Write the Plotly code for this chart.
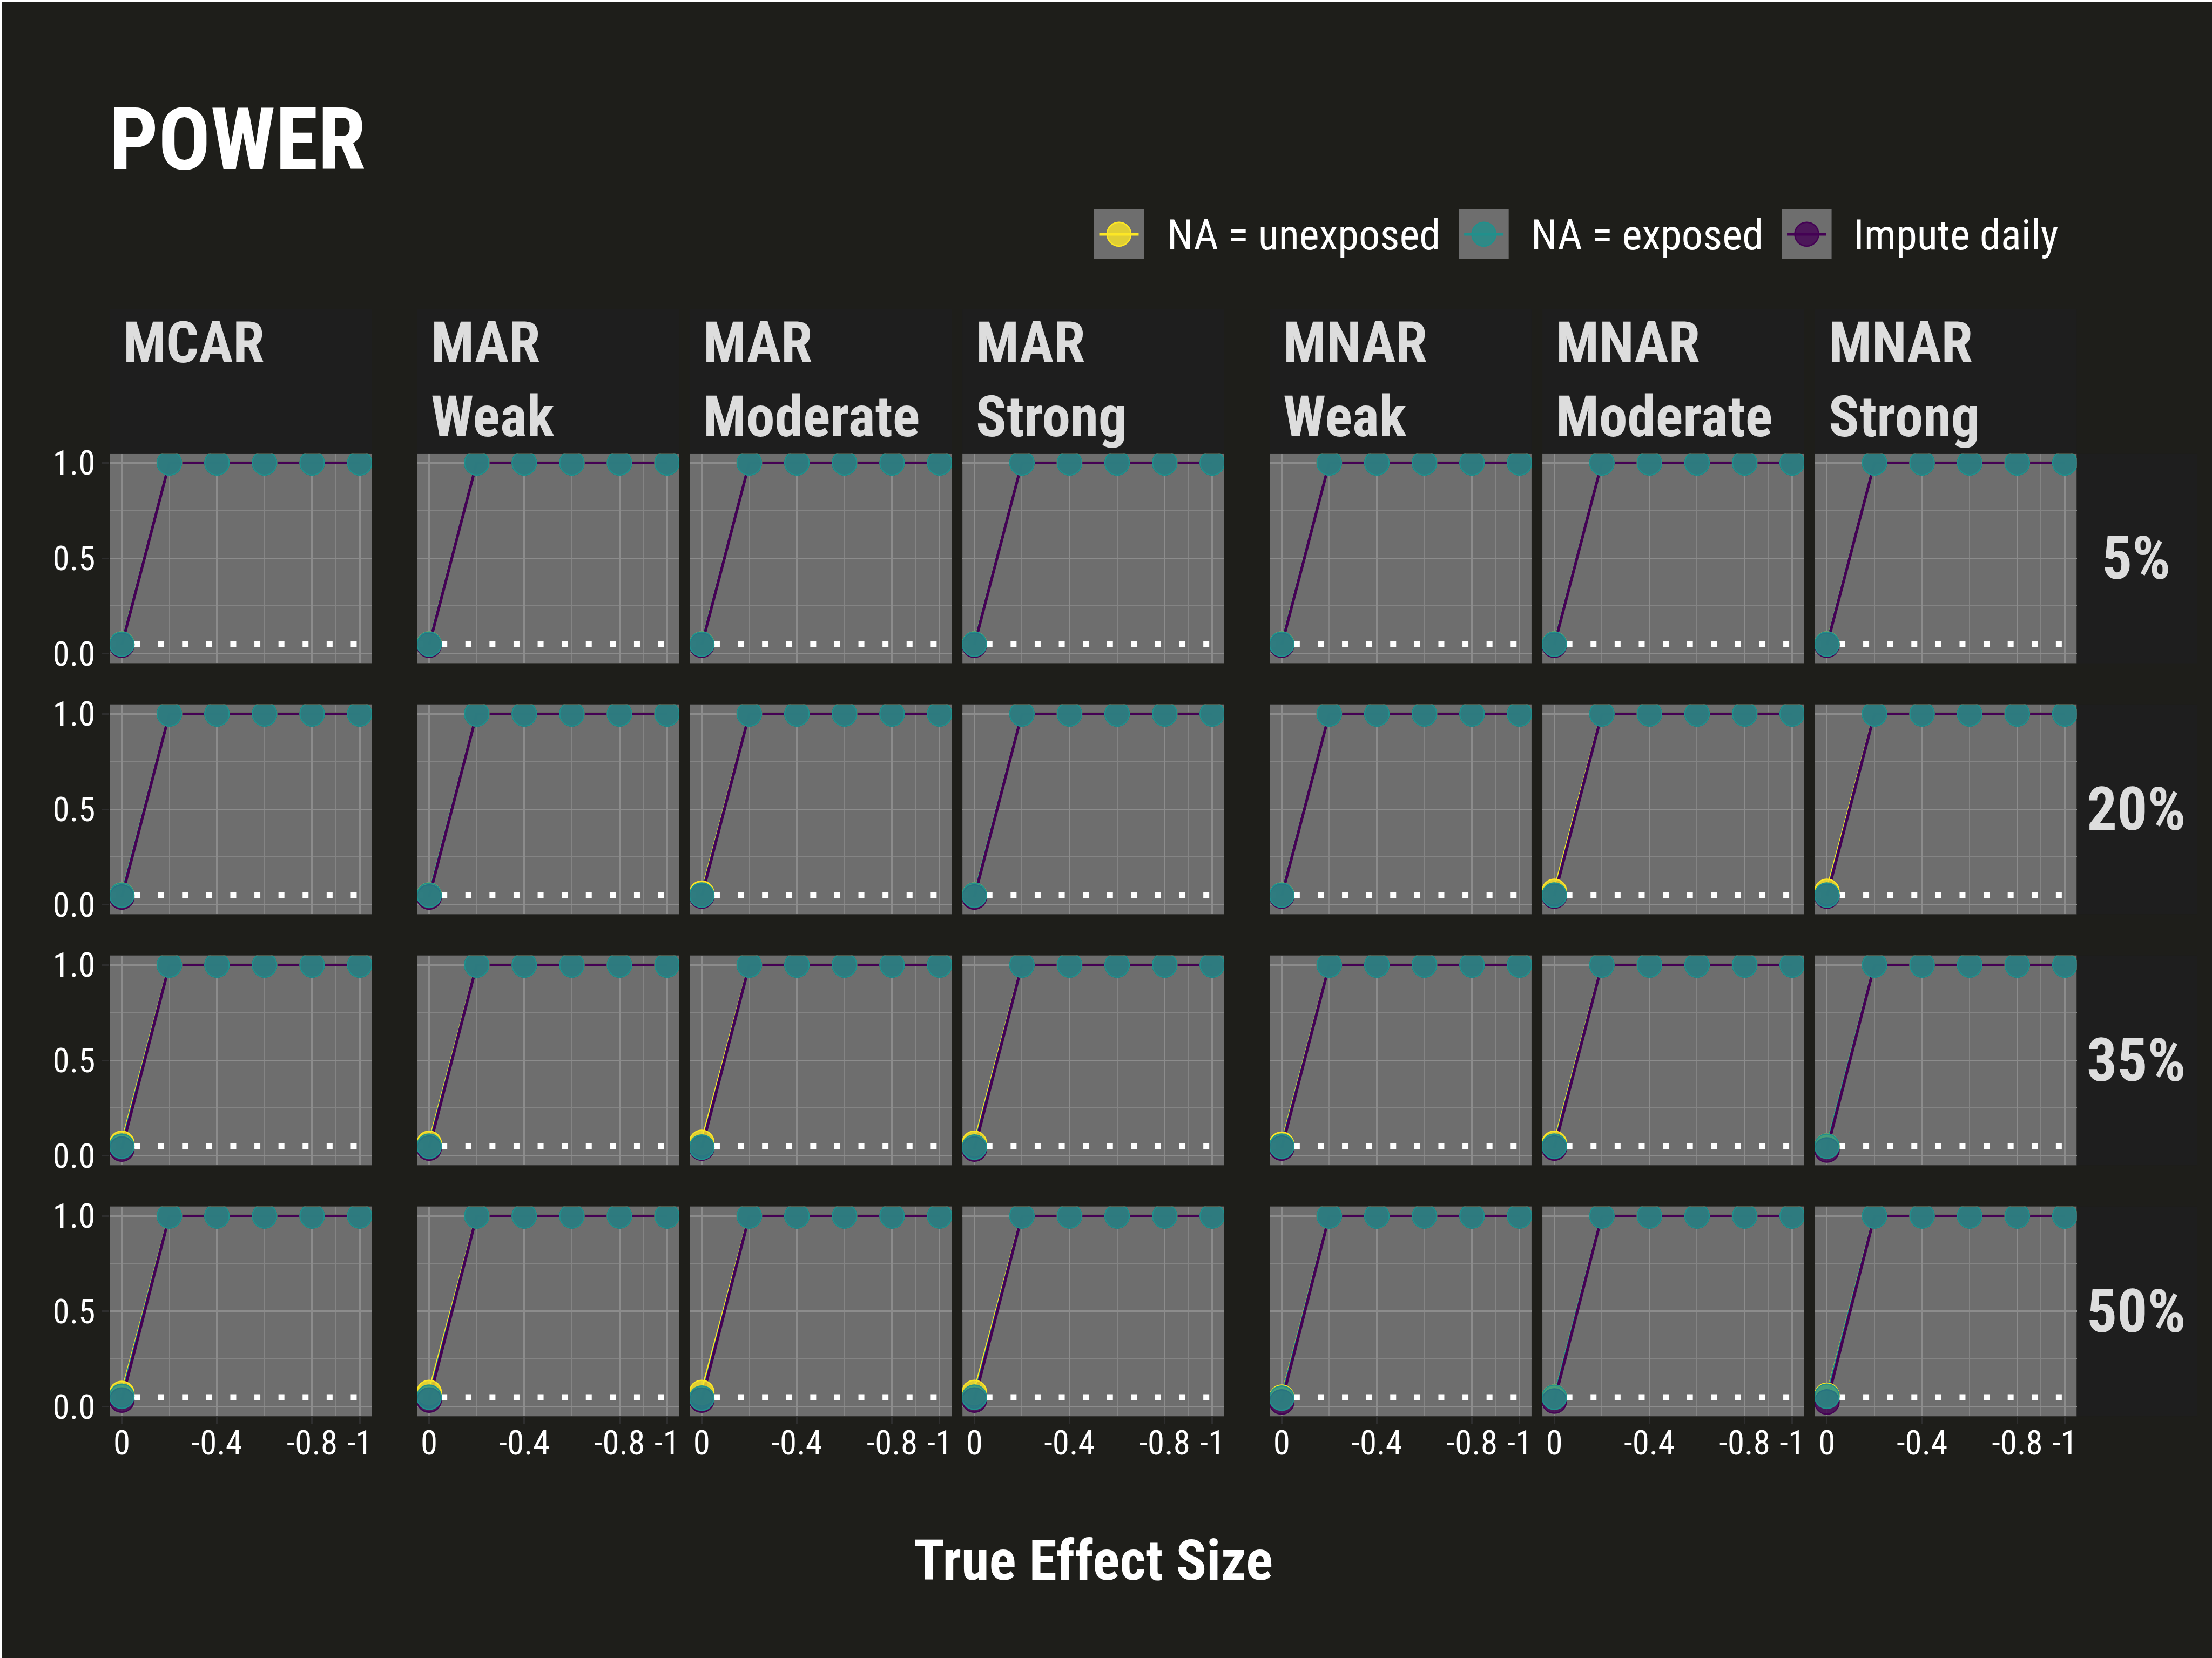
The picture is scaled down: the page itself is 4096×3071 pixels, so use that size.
import plotly.graph_objects as go

# ---------------- data ----------------
effect_sizes = [0, -0.2, -0.4, -0.6, -0.8, -1.0]
mechanisms = ["MCAR", "MAR", "MAR", "MAR", "MNAR", "MNAR", "MNAR"]
strengths = ["", "Weak", "Moderate", "Strong", "Weak", "Moderate", "Strong"]
missing_pct = ["5%", "20%", "35%", "50%"]
series_names = ["NA = unexposed", "NA = exposed", "Impute daily"]
series_colors = ["#FDE725", "#21908C", "#440154"]
series_fill = ["rgba(253,231,37,0.8)", "rgba(33,144,140,0.8)", "rgba(68,1,84,0.8)"]

# power at true effect 0 (rows = missing %, cols = mechanism/strength)
power_null_unexposed = [
    [0.050, 0.050, 0.050, 0.050, 0.050, 0.050, 0.050],
    [0.050, 0.050, 0.060, 0.050, 0.050, 0.070, 0.070],
    [0.065, 0.065, 0.070, 0.065, 0.060, 0.065, 0.050],
    [0.070, 0.075, 0.075, 0.075, 0.050, 0.050, 0.060],
]
power_null_exposed = [
    [0.050, 0.050, 0.050, 0.050, 0.050, 0.050, 0.050],
    [0.050, 0.050, 0.050, 0.050, 0.050, 0.050, 0.050],
    [0.050, 0.050, 0.045, 0.045, 0.050, 0.050, 0.050],
    [0.055, 0.050, 0.045, 0.050, 0.045, 0.050, 0.055],
]
power_null_impute = [
    [0.045, 0.045, 0.045, 0.045, 0.045, 0.045, 0.045],
    [0.040, 0.040, 0.045, 0.040, 0.045, 0.045, 0.045],
    [0.035, 0.040, 0.040, 0.035, 0.040, 0.040, 0.030],
    [0.035, 0.035, 0.035, 0.035, 0.025, 0.030, 0.025],
]
# power at true effects -0.2 ... -1.0 (same in every panel)
power_effect_unexposed = [1.0, 1.0, 1.0, 1.0, 1.0]
power_effect_exposed = [1.0, 1.0, 1.0, 1.0, 1.0]
power_effect_impute = [1.0, 1.0, 1.0, 1.0, 1.0]
alpha_level = 0.05

x_range = [0.05, -1.05]
y_range = [-0.05, 1.05]
x_tick_vals = [0, -0.4, -0.8, -1]
x_tick_text = ["0", "-0.4", "-0.8", "-1"]
x_minor_vals = [-0.2, -0.6, -0.9]
y_tick_vals = [0, 0.5, 1]
y_tick_text = ["0.0", "0.5", "1.0"]
y_minor_vals = [0.25, 0.75]

# ---------------- geometry (reference pixels) ----------------
W_REF, H_REF = 4268, 3200
W, H = 4096, 3071
S = W / W_REF
col_lefts = [212, 805, 1331, 1857, 2450, 2976, 3502]
panel_w = 505
row_tops = [875, 1359.5, 1844, 2328.5]
panel_h = 405


def px(x):
    return x / W_REF


def py(y):
    return 1 - y / H_REF


FONT = "Roboto Condensed, Roboto, sans-serif"
BG = "#1E1E1A"
STRIP_BG = "#1E1E1E"
PANEL_BG = "#6E6E6E"
GRID_MAJ = "#8C8C8C"
GRID_MIN = "#848484"
TICK_COL = "#2E2E2E"

fig = go.Figure()
layout = dict(
    width=W, height=H,
    margin=dict(l=0, r=0, t=0, b=0, pad=0),
    paper_bgcolor=BG, plot_bgcolor=PANEL_BG,
    template="none", showlegend=False,
    font=dict(family=FONT, color="#FFFFFF"),
)
shapes = []
annotations = []

null_sets = [power_null_unexposed, power_null_exposed, power_null_impute]
eff_sets = [power_effect_unexposed, power_effect_exposed, power_effect_impute]

for r in range(4):
    for c in range(7):
        k = r * 7 + c + 1
        xs = "" if k == 1 else str(k)
        xa, ya = "x" + xs, "y" + xs
        bottom = r == 3
        left = c == 0
        layout["xaxis" + xs] = dict(
            domain=[px(col_lefts[c]), px(col_lefts[c] + panel_w)],
            anchor=ya, range=x_range, fixedrange=True,
            tickvals=x_tick_vals, ticktext=x_tick_text,
            showticklabels=bottom, ticks="outside" if bottom else "",
            ticklen=14 * S, tickwidth=3.2 * S, tickcolor=TICK_COL,
            ticklabelstandoff=-19,
            tickfont=dict(size=63, color="#FFFFFF", family=FONT),
            showgrid=True, gridcolor=GRID_MAJ, gridwidth=3.3 * S,
            minor=dict(tickvals=x_minor_vals, showgrid=True, gridcolor=GRID_MIN, gridwidth=2 * S),
            zeroline=False, showline=False,
        )
        layout["yaxis" + xs] = dict(
            domain=[py(row_tops[r] + panel_h), py(row_tops[r])],
            anchor=xa, range=y_range, fixedrange=True,
            tickvals=y_tick_vals, ticktext=y_tick_text,
            showticklabels=left, ticks="outside" if left else "",
            ticklen=14 * S, tickwidth=3.2 * S, tickcolor=TICK_COL,
            tickfont=dict(size=63, color="#FFFFFF", family=FONT),
            showgrid=True, gridcolor=GRID_MAJ, gridwidth=3.3 * S,
            minor=dict(tickvals=y_minor_vals, showgrid=True, gridcolor=GRID_MIN, gridwidth=2 * S),
            zeroline=False, showline=False,
        )
        # dotted reference line at the alpha level, across the full panel
        fig.add_trace(go.Scatter(
            x=x_range, y=[alpha_level, alpha_level], xaxis=xa, yaxis=ya, mode="lines",
            line=dict(color="#FFFFFF", width=11.5 * S,
                      dash="%.1fpx,%.1fpx" % (11.5 * S, 35 * S)),
            hoverinfo="skip", showlegend=False))
        series_y = [[null_sets[s][r][c]] + eff_sets[s] for s in range(3)]
        # lines: yellow, teal, purple (purple on top)
        for s in [0, 1, 2]:
            fig.add_trace(go.Scatter(
                x=effect_sizes, y=series_y[s], xaxis=xa, yaxis=ya, mode="lines",
                line=dict(color=series_colors[s], width=5.5 * S),
                hoverinfo="skip", showlegend=False))
        # points: yellow, purple, teal (teal on top)
        for s in [0, 2, 1]:
            fig.add_trace(go.Scatter(
                x=effect_sizes, y=series_y[s], xaxis=xa, yaxis=ya, mode="markers",
                marker=dict(size=47 * S, color=series_fill[s],
                            line=dict(color=series_colors[s], width=2.5 * S)),
                hoverinfo="skip", showlegend=False))

# strip backgrounds and labels
for c in range(7):
    shapes.append(dict(type="rect", xref="paper", yref="paper", layer="below",
                       x0=px(col_lefts[c]), x1=px(col_lefts[c] + panel_w),
                       y0=py(875), y1=py(597), fillcolor=STRIP_BG, line=dict(width=0)))
    annotations.append(dict(text=mechanisms[c], x=px(col_lefts[c] + 24), y=py(662),
                            xref="paper", yref="paper", xanchor="left", yanchor="middle",
                            showarrow=False,
                            font=dict(size=110 * S, color="#DDDDDD", family=FONT, weight=700)))
    if strengths[c]:
        annotations.append(dict(text=strengths[c], x=px(col_lefts[c] + 24), y=py(804),
                                xref="paper", yref="paper", xanchor="left", yanchor="middle",
                                showarrow=False,
                                font=dict(size=110 * S, color="#DDDDDD", family=FONT, weight=700)))
for r in range(4):
    shapes.append(dict(type="rect", xref="paper", yref="paper", layer="below",
                       x0=px(4007), x1=px(4239),
                       y0=py(row_tops[r] + panel_h), y1=py(row_tops[r]),
                       fillcolor=STRIP_BG, line=dict(width=0)))
    annotations.append(dict(text=missing_pct[r], x=px(4122), y=py(row_tops[r] + panel_h / 2),
                            xref="paper", yref="paper", xanchor="center", yanchor="middle",
                            showarrow=False,
                            font=dict(size=116 * S, color="#DDDDDD", family=FONT, weight=700)))

# title
annotations.append(dict(text="POWER", x=px(208), y=py(269), xref="paper", yref="paper",
                        xanchor="left", yanchor="middle", showarrow=False,
                        font=dict(size=167 * S, color="#FFFFFF", family=FONT, weight=700)))
# x axis title
annotations.append(dict(text="True Effect Size", x=px((212 + 4007) / 2), y=py(3012),
                        xref="paper", yref="paper", xanchor="center", yanchor="middle",
                        showarrow=False,
                        font=dict(size=109 * S, color="#FFFFFF", family=FONT, weight=700)))

# manual legend
key_lefts = [2111, 2815, 3438]
text_lefts = [2250, 2952, 3574]
for i in range(3):
    kx = key_lefts[i]
    shapes.append(dict(type="rect", xref="paper", yref="paper", layer="above",
                       x0=px(kx), x1=px(kx + 96), y0=py(500), y1=py(404),
                       fillcolor=PANEL_BG, line=dict(width=0)))
    shapes.append(dict(type="circle", xref="paper", yref="paper", layer="above",
                       xsizemode="pixel", ysizemode="pixel",
                       xanchor=px(kx + 48), yanchor=py(452),
                       x0=-23 * S, x1=23 * S, y0=-23 * S, y1=23 * S,
                       fillcolor=series_fill[i], line=dict(color=series_colors[i], width=2.5 * S)))
    shapes.append(dict(type="line", xref="paper", yref="paper", layer="above",
                       x0=px(kx + 10), x1=px(kx + 86), y0=py(452), y1=py(452),
                       line=dict(color=series_colors[i], width=5.5 * S)))
    annotations.append(dict(text=series_names[i], x=px(text_lefts[i]), y=py(453),
                            xref="paper", yref="paper", xanchor="left", yanchor="middle",
                            showarrow=False,
                            font=dict(size=82 * S, color="#FFFFFF", family=FONT)))

# thin light frame on top/left edges
shapes.append(dict(type="line", xref="paper", yref="paper", x0=0, x1=1, y0=1, y1=1,
                   line=dict(color="#FFFFFF", width=6)))
shapes.append(dict(type="line", xref="paper", yref="paper", x0=0, x1=0, y0=0, y1=1,
                   line=dict(color="#FFFFFF", width=6)))

layout["shapes"] = shapes
layout["annotations"] = annotations
fig.update_layout(**layout)
fig.write_html("out.html")
